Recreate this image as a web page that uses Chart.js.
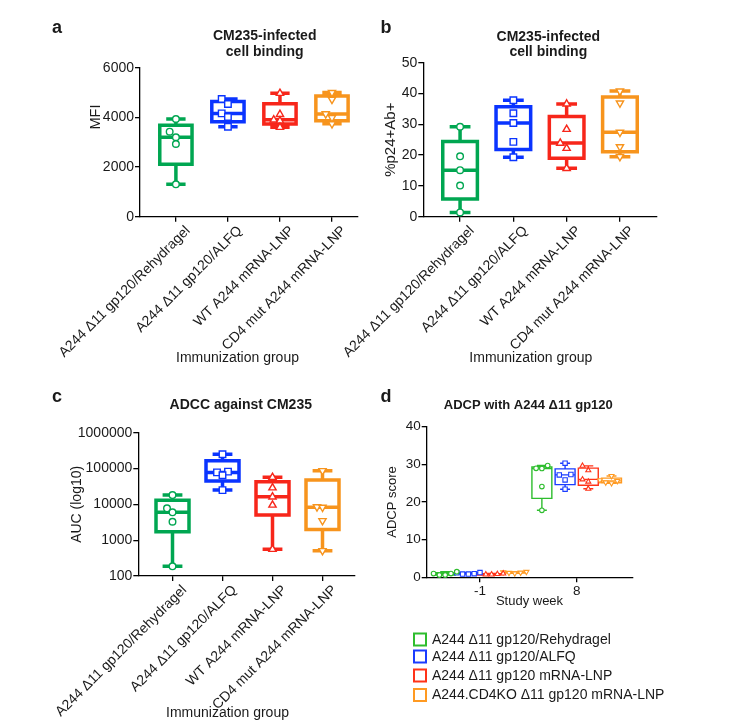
<!DOCTYPE html>
<html>
<head>
<meta charset="utf-8">
<script src="https://cdn.jsdelivr.net/npm/chart.js@4.4.1/dist/chart.umd.min.js"></script>
<style>
  html, body { margin: 0; padding: 0; background: #fff; }
  #fig { position: relative; width: 734px; height: 727px; }
  #fig canvas { position: absolute; left: 0; top: 0; }
</style>
</head>
<body>
<div id="fig">
  <canvas id="chartA" width="734" height="727"></canvas>
  <canvas id="chartB" width="734" height="727"></canvas>
  <canvas id="chartC" width="734" height="727"></canvas>
  <canvas id="chartD" width="734" height="727"></canvas>
</div>
<script>
// groups on the x axis of a-c, and the legend names used for d
const groupNames = ["A244 \u039411 gp120/Rehydragel", "A244 \u039411 gp120/ALFQ", "WT A244 mRNA-LNP", "CD4 mut A244 mRNA-LNP"]
const legendNames = ["A244 \u039411 gp120/Rehydragel", "A244 \u039411 gp120/ALFQ", "A244 \u039411 gp120 mRNA-LNP", "A244.CD4KO \u039411 gp120 mRNA-LNP"]
const weekLabels = ["-1", "8"]

// a: MFI
const mfiRehydragel = [3934, 3423, 3200, 2927, 1304]
const mfiAlfq = [4740, 4537, 4160, 4015, 3624]
const mfiWtMrna = [4970, 4120, 3900, 3860, 3600]
const mfiCd4Mrna = [5000, 4720, 4140, 3990, 3740]

// b: %p24+Ab+
const p24Rehydragel = [29.2, 19.6, 15.1, 10.1, 1.4]
const p24Alfq = [37.8, 33.6, 30.4, 24.3, 19.3]
const p24WtMrna = [36.6, 28.4, 23.9, 22.2, 15.7]
const p24Cd4Mrna = [40.8, 36.9, 27.4, 22.7, 19.5]

// c: ADCC AUC
const aucRehydragel = [18100, 7770, 6000, 3270, 186]
const aucAlfq = [250000, 82000, 78000, 65000, 25000]
const aucWtMrna = [56900, 29000, 16200, 9560, 556]
const aucCd4Mrna = [87000, 8500, 8260, 3480, 508]

// d: ADCP score, week -1 and week 8
const adcpWk0Rehydragel = [0.6, 1.5, 1.0, 1.0, 0.6]
const adcpWk0Alfq = [0.85, 1.2, 0.95, 1.25, 0.85]
const adcpWk0WtMrna = [0.75, 0.95, 0.85, 1.0, 0.75]
const adcpWk0Cd4Mrna = [1.25, 1.45, 1.2, 1.35, 1.05]
const adcpWk8Rehydragel = [29.7, 28.95, 28.9, 24.1, 17.8]
const adcpWk8Alfq = [30.3, 27.3, 27.2, 25.85, 23.4]
const adcpWk8WtMrna = [29.6, 28.4, 26.0, 25.4, 23.5]
const adcpWk8Cd4Mrna = [26.9, 25.8, 25.6, 25.2, 25.0]

const W = 734, H = 727
const FONT = "'Liberation Sans', Arial, Helvetica, sans-serif"
const INK = "#1a1a1a"
const darkColors = ["#00a651", "#0a34ff", "#f7261a", "#f7941d"]
const lightColors = ["#2ebd2e", "#1a3cff", "#ff3318", "#ff9a22"]
const pointStyles = ["circle", "rect", "triangle", "triangle"]
const pointRotations = [0, 0, 0, 180]

// prism style quartiles, (n+1) positions
function quantile(sorted, q) {
  const pos = q * (sorted.length + 1) - 1
  const lo = Math.max(0, Math.min(sorted.length - 1, Math.floor(pos)))
  const hi = Math.min(sorted.length - 1, lo + 1)
  const frac = Math.max(0, pos - Math.floor(pos))
  return sorted[lo] + (sorted[hi] - sorted[lo]) * frac
}

// one line path per group: box, median, whiskers, caps, split by null gaps
function boxFrame(cx, vals, hw, capRatio) {
  const s = [...vals].sort((a, b) => a - b)
  const q1 = quantile(s, 0.25), md = quantile(s, 0.5), q3 = quantile(s, 0.75)
  const lo = s[0], hi = s[s.length - 1]
  const cw = hw * capRatio
  const gap = { x: cx, y: null }
  return [
    { x: cx, y: q1 }, { x: cx + hw, y: q1 }, { x: cx + hw, y: q3 }, { x: cx - hw, y: q3 }, { x: cx - hw, y: q1 }, { x: cx, y: q1 }, gap,
    { x: cx - hw, y: md }, { x: cx + hw, y: md }, gap,
    { x: cx, y: q1 }, { x: cx, y: lo }, gap,
    { x: cx, y: q3 }, { x: cx, y: hi }, gap,
    { x: cx - cw, y: lo }, { x: cx + cw, y: lo }, gap,
    { x: cx - cw, y: hi }, { x: cx + cw, y: hi }
  ]
}

// simple column scatter: points that would overlap move sideways
function swarm(cx, vals, step, thr, toY) {
  const placed = []
  const out = new Array(vals.length)
  const order = vals.map((v, i) => i).sort((a, b) => vals[a] - vals[b])
  order.forEach(i => {
    const yv = toY(vals[i])
    for (const k of [0, -1, 1, -2, 2, -3, 3]) {
      if (placed.every(p => p.k !== k || Math.abs(p.y - yv) >= thr)) {
        placed.push({ k, y: yv })
        out[i] = { x: cx + k * step, y: vals[i] }
        break
      }
    }
  })
  return out
}

const panelText = {
  id: "panelText",
  afterDraw(chart, args, opts) {
    const ctx = chart.ctx
    ;(opts.items || []).forEach(t => {
      ctx.save()
      ctx.font = t.font
      ctx.fillStyle = INK
      ctx.textAlign = t.align || "center"
      ctx.textBaseline = "middle"
      ctx.translate(t.x, t.y)
      if (t.rotate) ctx.rotate(t.rotate * Math.PI / 180)
      ctx.fillText(t.text, 0, 0)
      ctx.restore()
    })
    ;(opts.legend || []).forEach(e => {
      ctx.save()
      ctx.strokeStyle = e.color
      ctx.lineWidth = 2
      ctx.strokeRect(e.x - 6, e.y - 6, 12, 12)
      ctx.font = "14px " + FONT
      ctx.fillStyle = INK
      ctx.textAlign = "left"
      ctx.textBaseline = "middle"
      ctx.fillText(e.label, e.x + 12, e.y + 0.5)
      ctx.restore()
    })
  }
}
Chart.register(panelText)

function axisStyle(size) {
  return {
    grid: { display: true, drawOnChartArea: false, drawTicks: true, tickLength: 5, color: "#000", lineWidth: 1.3 },
    border: { display: true, color: "#000", width: 1.3 },
    ticks: { color: INK, font: { family: FONT, size: size } }
  }
}

function buildChart(id, p) {
  const datasets = []
  const toY = p.log ? v => Math.log10(v) : v => v
  p.series.forEach((vals, i) => {
    const g = i % 4
    const cx = p.centers[i]
    const color = p.colors[g]
    datasets.push({
      data: boxFrame(cx, vals, p.halfWidth, p.capRatio),
      borderColor: color, borderWidth: p.lineWidth, pointRadius: 0,
      borderJoinStyle: "miter", borderCapStyle: "butt", fill: false, order: 1, clip: false
    })
    datasets.push({
      data: swarm(cx, vals, p.step, p.thr, toY),
      showLine: false, order: 0, clip: false,
      pointStyle: pointStyles[g], rotation: pointRotations[g],
      pointRadius: p.pointRadius[g], pointBorderWidth: p.pointBorder,
      pointBackgroundColor: "#fff", pointBorderColor: color
    })
  })

  const x = axisStyle(p.xFont)
  const y = axisStyle(p.yFont)
  const yLeft = p.yLeft

  return new Chart(document.getElementById(id), {
    type: "line",
    data: { datasets },
    options: {
      responsive: false,
      animation: false,
      events: [],
      layout: { padding: { left: yLeft, top: p.top, right: W - p.right, bottom: H - p.bottom - p.xHeight } },
      plugins: {
        legend: { display: false },
        tooltip: { enabled: false },
        panelText: { items: p.text, legend: p.legend || [] }
      },
      scales: {
        x: {
          type: "linear", min: p.xMin, max: p.xMax,
          grid: x.grid, border: x.border,
          afterBuildTicks: s => { s.ticks = p.xTicks.map(v => ({ value: v })) },
          afterFit: s => { s.height = p.xHeight; s.paddingLeft = 0; s.paddingRight = 0 },
          ticks: Object.assign(x.ticks, {
            autoSkip: false, minRotation: p.xRotation, maxRotation: p.xRotation,
            padding: p.xPad, labelOffset: p.xLabelOffset,
            callback: (v, i) => p.xLabels[i]
          }),
          title: p.xTitle ? { display: true, text: p.xTitle, color: INK, padding: 0, font: { family: FONT, size: p.xTitleSize } } : { display: false }
        },
        y: {
          type: p.log ? "logarithmic" : "linear", min: p.yMin, max: p.yMax,
          grid: y.grid, border: y.border,
          afterBuildTicks: s => { s.ticks = p.yTicks.map(v => ({ value: v })) },
          afterFit: s => { s.width = p.left - yLeft; s.paddingTop = 0; s.paddingBottom = 0 },
          ticks: Object.assign(y.ticks, { padding: 1, callback: v => String(v) }),
          title: p.yTitle ? { display: true, text: p.yTitle, color: INK, padding: 0, font: { family: FONT, size: p.yTitleSize } } : { display: false }
        }
      }
    }
  })
}

const bold = s => "bold " + s + "px " + FONT
const reg = s => s + "px " + FONT
const cats = [1, 2, 3, 4]

// a
buildChart("chartA", {
  left: 140, right: 358, top: 67.7, bottom: 216.7, yLeft: 60, xHeight: 150,
  xMin: 0.31, xMax: 4.5, yMin: 0, yMax: 6000,
  xTicks: cats, xLabels: groupNames, yTicks: [0, 2000, 4000, 6000],
  xRotation: 45, xPad: 1, xLabelOffset: 12, xFont: 14, yFont: 14,
  series: [mfiRehydragel, mfiAlfq, mfiWtMrna, mfiCd4Mrna], centers: cats,
  colors: darkColors, halfWidth: 0.31, capRatio: 0.6, lineWidth: 3.5,
  step: 0.12, thr: 240, pointRadius: [3.3, 4.6, 4.2, 4.2], pointBorder: 1.4,
  text: [
    { text: "a", x: 57, y: 28, font: bold(18) },
    { text: "CM235-infected", x: 264.7, y: 36, font: bold(14) },
    { text: "cell binding", x: 264.7, y: 52, font: bold(14) },
    { text: "MFI", x: 96, y: 117, font: reg(14.5), rotate: -90 },
    { text: "Immunization group", x: 237.5, y: 358.5, font: reg(14) }
  ]
})

// b
buildChart("chartB", {
  left: 423.3, right: 656.7, top: 62.7, bottom: 216.7, yLeft: 381.5, xHeight: 150,
  xMin: 0.31, xMax: 4.69, yMin: 0, yMax: 50,
  xTicks: cats, xLabels: groupNames, yTicks: [0, 10, 20, 30, 40, 50],
  xRotation: 45, xPad: 1, xLabelOffset: 12, xFont: 14, yFont: 14,
  yTitle: "%p24+Ab+", yTitleSize: 15,
  series: [p24Rehydragel, p24Alfq, p24WtMrna, p24Cd4Mrna], centers: cats,
  colors: darkColors, halfWidth: 0.325, capRatio: 0.6, lineWidth: 3.5,
  step: 0.12, thr: 2, pointRadius: [3.3, 4.6, 4.2, 4.2], pointBorder: 1.4,
  text: [
    { text: "b", x: 386, y: 28, font: bold(18) },
    { text: "CM235-infected", x: 548.3, y: 36.7, font: bold(14) },
    { text: "cell binding", x: 548.3, y: 52.5, font: bold(14) },
    { text: "Immunization group", x: 530.8, y: 358.5, font: reg(14) }
  ]
})

// c
buildChart("chartC", {
  left: 138.3, right: 355, top: 432.7, bottom: 576, yLeft: 69.1, xHeight: 150,
  xMin: 0.316, xMax: 4.65, yMin: 100, yMax: 1000000, log: true,
  xTicks: cats, xLabels: groupNames, yTicks: [100, 1000, 10000, 100000, 1000000],
  xRotation: 45, xPad: 1, xLabelOffset: 12, xFont: 14, yFont: 14,
  yTitle: "AUC (log10)", yTitleSize: 14,
  series: [aucRehydragel, aucAlfq, aucWtMrna, aucCd4Mrna], centers: cats,
  colors: darkColors, halfWidth: 0.33, capRatio: 0.6, lineWidth: 3.5,
  step: 0.11, thr: 0.16, pointRadius: [3.3, 4.6, 4.2, 4.2], pointBorder: 1.4,
  text: [
    { text: "c", x: 57, y: 397, font: bold(18) },
    { text: "ADCC against CM235", x: 240.8, y: 405, font: bold(14) },
    { text: "Immunization group", x: 227.5, y: 713.5, font: reg(14) }
  ]
})

// d
const groupShift = [-0.36, -0.12, 0.12, 0.36]
const weekPos = [1, 2]
buildChart("chartD", {
  left: 426.7, right: 632.3, top: 426.7, bottom: 577.3, yLeft: 384.7, xHeight: 32.2,
  xMin: 0.449, xMax: 2.575, yMin: 0, yMax: 40,
  xTicks: weekPos, xLabels: weekLabels, yTicks: [0, 10, 20, 30, 40],
  xRotation: 0, xPad: 1, xLabelOffset: 0, xFont: 13.5, yFont: 13.5,
  xTitle: "Study week", xTitleSize: 13,
  yTitle: "ADCP score", yTitleSize: 13,
  series: [adcpWk0Rehydragel, adcpWk0Alfq, adcpWk0WtMrna, adcpWk0Cd4Mrna,
           adcpWk8Rehydragel, adcpWk8Alfq, adcpWk8WtMrna, adcpWk8Cd4Mrna],
  centers: weekPos.flatMap(w => groupShift.map(s => w + s)),
  colors: lightColors, halfWidth: 0.103, capRatio: 0.5, lineWidth: 1.4,
  step: 0.06, thr: 1.6, pointRadius: [2.3, 3.1, 2.9, 2.9], pointBorder: 1.1,
  text: [
    { text: "d", x: 386, y: 397, font: bold(18) },
    { text: "ADCP with A244 \u039411 gp120", x: 528.3, y: 405, font: bold(13) }
  ],
  legend: legendNames.map((label, i) => ({ label, color: lightColors[i], x: 420, y: [639.5, 656.5, 675.5, 695][i] }))
})
</script>
</body>
</html>
